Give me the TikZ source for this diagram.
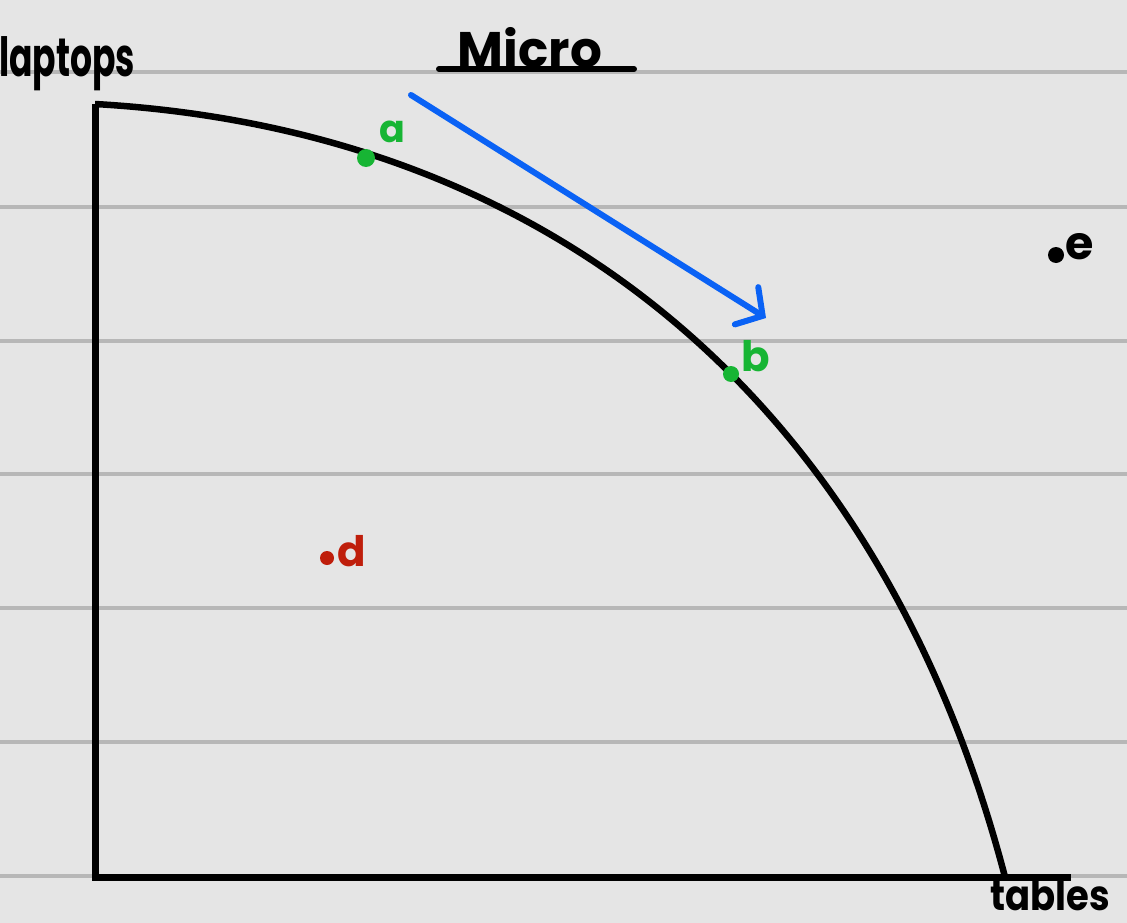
\documentclass[tikz,border=0pt]{standalone}
\usepackage{fontspec}
\usepackage{graphicx}
\setmainfont{Poppins}
\usetikzlibrary{arrows.meta}
\definecolor{bg}{HTML}{E5E5E5}
\definecolor{grid}{HTML}{B7B7B7}
\definecolor{pgreen}{HTML}{17B534}
\definecolor{pred}{HTML}{BF1E0B}
\definecolor{pblue}{HTML}{0A62F5}
\tikzset{
  gridline/.style={grid, line width=4pt},
  axisline/.style={black, line width=7pt},
  hand/.style={inner sep=0pt, font=\bfseries\fontsize{#1}{#1}\selectfont},
  hand/.default=40,
  ptdot/.style={circle, fill=#1, inner sep=0pt, minimum size=18pt},
}
\begin{document}
\begin{tikzpicture}[x=1pt,y=-1pt]
\useasboundingbox[fill=bg] (0,0) rectangle (1127,923);
% ruled lines
\foreach \yy in {72,207,341,474,608,742,876}
  \draw[gridline] (0,\yy) -- (1127,\yy);
% title
\node[hand=50] (title) at (530,48) {Micro};
\coordinate (ulL) at (439,69);
\coordinate (ulR) at (634,69);
\draw[black, line width=6pt, line cap=round] (ulL) -- (ulR);
% axes
\coordinate (O) at (95,877);
\coordinate (ytop) at (95,104);
\coordinate (xend) at (1071,877);
\draw[axisline] (ytop) -- (O) -- (xend);
\node[hand=54] (ylab) at (67,64) {\scalebox{0.64}[1]{laptops}};
\node[hand=42] (xlab) at (1050,895) {\scalebox{0.88}[1]{tables}};
% PPF curve
\coordinate (pend) at (1005,877);
\draw[black, line width=6.5pt] (ytop) .. controls (550,130) and (880,400) .. (pend);
% arrow
\coordinate (arrS) at (411,95);
\coordinate (arrE) at (766,318);
\draw[pblue, line width=6pt, line cap=round, -{Straight Barb[length=19pt,width=44pt,line cap=round]}] (arrS) -- (arrE);
% points
\node[ptdot=pgreen] (a) at (366,158) {};
\node[hand=38, text=pgreen] (alab) at (392,132) {a};
\node[ptdot=pgreen, minimum size=16pt] (b) at (731,374) {};
\node[hand=42, text=pgreen] (blab) at (756,356) {b};
\node[ptdot=pred, minimum size=14pt] (d) at (327,558) {};
\node[hand=42, text=pred] (dlab) at (352,551) {d};
\node[ptdot=black, minimum size=16pt] (e) at (1056,255) {};
\node[hand=46, text=black] (elab) at (1080,247) {e};
\end{tikzpicture}
\end{document}
